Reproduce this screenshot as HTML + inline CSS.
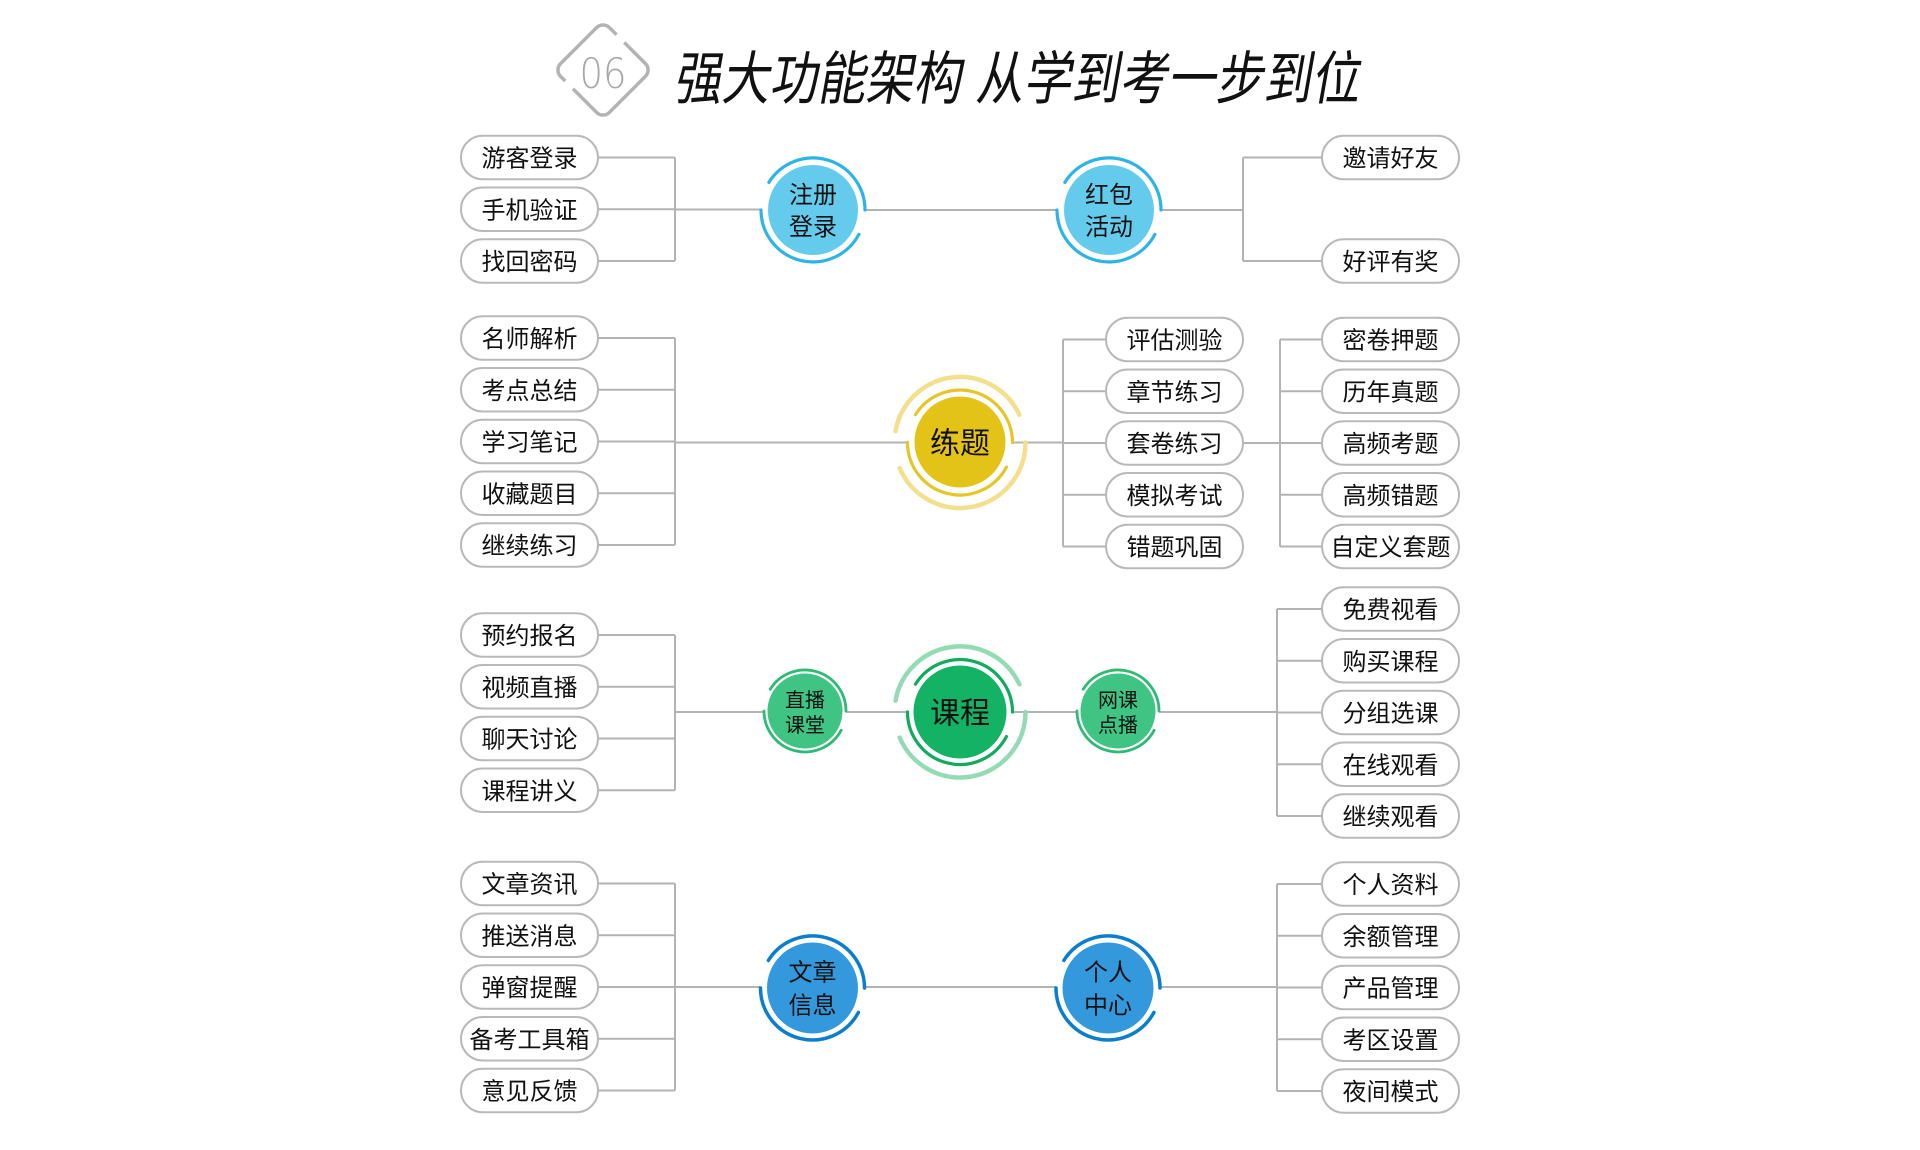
<!DOCTYPE html>
<html>
<head>
<meta charset="utf-8">
<style>
html,body{margin:0;padding:0;background:#fff;}
svg{display:block;}
.p{fill:#fff;stroke:#b9b9b9;stroke-width:2;}
.t{font-family:"Liberation Sans","Noto Sans CJK SC",sans-serif;font-size:24px;fill:#111;text-anchor:middle;}
.c{font-family:"Liberation Sans","Noto Sans CJK SC",sans-serif;fill:#111;text-anchor:middle;}
.r{fill:none;stroke-linecap:round;}
</style>
</head>
<body>
<svg width="1920" height="1150" viewBox="0 0 1920 1150" xmlns="http://www.w3.org/2000/svg">
<rect width="1920" height="1150" fill="#fff"/>

<!-- Title badge -->
<rect x="-34.5" y="-34.5" width="69" height="69" rx="9" transform="translate(603,70) rotate(45)" fill="none" stroke="#b3b3b3" stroke-width="3.5"/>
<rect x="-5.5" y="-6" width="11" height="12" transform="translate(619,40) rotate(45)" fill="#fff"/>
<rect x="-5.5" y="-6" width="11" height="12" transform="translate(570,84) rotate(45)" fill="#fff"/>
<text x="603" y="88" font-family="DejaVu Sans, Liberation Sans, sans-serif" font-weight="200" font-size="42" fill="#a8a8a8" text-anchor="middle" textLength="47" lengthAdjust="spacingAndGlyphs">06</text>

<!-- Title -->
<g transform="translate(0,99) skewX(-10)">
<text x="673" y="0" font-family="Liberation Sans, Noto Sans CJK SC, sans-serif" font-size="58" fill="#111" textLength="288" lengthAdjust="spacingAndGlyphs">强大功能架构</text>
<text x="975" y="0" font-family="Liberation Sans, Noto Sans CJK SC, sans-serif" font-size="58" fill="#111" textLength="384" lengthAdjust="spacingAndGlyphs">从学到考一步到位</text>
</g>

<!-- Connectors -->
<path fill="none" stroke="#b3b3b3" stroke-width="2" d="
M598 157.5H675M598 209.25H675M598 261H675M675 157.5V261M675 209.5H761
M865 210H1057
M1161 210H1243M1243 157.5V261M1243 157.5H1322M1243 261H1322
M598 338H675M598 389.75H675M598 441.5H675M598 493.25H675M598 545H675M675 338V545M675 442.5H907.5
M1012.5 442.5H1063M1063 339.5V546.5M1063 339.5H1106M1063 391.25H1106M1063 443H1106M1063 494.75H1106M1063 546.5H1106
M1243 443H1280M1280 339.5V546.5M1280 339.5H1322M1280 391.25H1322M1280 443H1322M1280 494.75H1322M1280 546.5H1322
M598 635H675M598 686.75H675M598 738.5H675M598 790.25H675M675 635V790.25M675 712H764
M846 712H907.5M1012.5 712H1077M1159 712H1277
M1277 609V816M1277 609H1322M1277 660.75H1322M1277 712.5H1322M1277 764.25H1322M1277 816H1322
M598 883.5H675M598 935.25H675M598 987H675M598 1038.75H675M598 1090.5H675M675 883.5V1090.5M675 987H760.5
M864.5 987H1056
M1160 987H1277M1277 884V1091M1277 884H1322M1277 935.75H1322M1277 987.5H1322M1277 1039.25H1322M1277 1091H1322
"/>

<!-- Pills left -->
<g>
<rect class="p" x="461" y="135.75" width="137" height="43.5" rx="21.75"/><text class="t" x="529.5" y="166.5">游客登录</text>
<rect class="p" x="461" y="187.5" width="137" height="43.5" rx="21.75"/><text class="t" x="529.5" y="218.25">手机验证</text>
<rect class="p" x="461" y="239.25" width="137" height="43.5" rx="21.75"/><text class="t" x="529.5" y="270">找回密码</text>

<rect class="p" x="461" y="316.25" width="137" height="43.5" rx="21.75"/><text class="t" x="529.5" y="347">名师解析</text>
<rect class="p" x="461" y="368" width="137" height="43.5" rx="21.75"/><text class="t" x="529.5" y="398.75">考点总结</text>
<rect class="p" x="461" y="419.75" width="137" height="43.5" rx="21.75"/><text class="t" x="529.5" y="450.5">学习笔记</text>
<rect class="p" x="461" y="471.5" width="137" height="43.5" rx="21.75"/><text class="t" x="529.5" y="502.25">收藏题目</text>
<rect class="p" x="461" y="523.25" width="137" height="43.5" rx="21.75"/><text class="t" x="529.5" y="554">继续练习</text>

<rect class="p" x="461" y="613.25" width="137" height="43.5" rx="21.75"/><text class="t" x="529.5" y="644">预约报名</text>
<rect class="p" x="461" y="665" width="137" height="43.5" rx="21.75"/><text class="t" x="529.5" y="695.75">视频直播</text>
<rect class="p" x="461" y="716.75" width="137" height="43.5" rx="21.75"/><text class="t" x="529.5" y="747.5">聊天讨论</text>
<rect class="p" x="461" y="768.5" width="137" height="43.5" rx="21.75"/><text class="t" x="529.5" y="799.25">课程讲义</text>

<rect class="p" x="461" y="861.75" width="137" height="43.5" rx="21.75"/><text class="t" x="529.5" y="892.5">文章资讯</text>
<rect class="p" x="461" y="913.5" width="137" height="43.5" rx="21.75"/><text class="t" x="529.5" y="944.25">推送消息</text>
<rect class="p" x="461" y="965.25" width="137" height="43.5" rx="21.75"/><text class="t" x="529.5" y="996">弹窗提醒</text>
<rect class="p" x="461" y="1017" width="137" height="43.5" rx="21.75"/><text class="t" x="529.5" y="1047.75">备考工具箱</text>
<rect class="p" x="461" y="1068.75" width="137" height="43.5" rx="21.75"/><text class="t" x="529.5" y="1099.5">意见反馈</text>
</g>

<!-- Pills middle -->
<g>
<rect class="p" x="1106" y="317.75" width="137" height="43.5" rx="21.75"/><text class="t" x="1174.5" y="348.5">评估测验</text>
<rect class="p" x="1106" y="369.5" width="137" height="43.5" rx="21.75"/><text class="t" x="1174.5" y="400.25">章节练习</text>
<rect class="p" x="1106" y="421.25" width="137" height="43.5" rx="21.75"/><text class="t" x="1174.5" y="452">套卷练习</text>
<rect class="p" x="1106" y="473" width="137" height="43.5" rx="21.75"/><text class="t" x="1174.5" y="503.75">模拟考试</text>
<rect class="p" x="1106" y="524.75" width="137" height="43.5" rx="21.75"/><text class="t" x="1174.5" y="555.5">错题巩固</text>
</g>

<!-- Pills right -->
<g>
<rect class="p" x="1322" y="135.75" width="137" height="43.5" rx="21.75"/><text class="t" x="1390.5" y="166.5">邀请好友</text>
<rect class="p" x="1322" y="239.25" width="137" height="43.5" rx="21.75"/><text class="t" x="1390.5" y="270">好评有奖</text>

<rect class="p" x="1322" y="317.75" width="137" height="43.5" rx="21.75"/><text class="t" x="1390.5" y="348.5">密卷押题</text>
<rect class="p" x="1322" y="369.5" width="137" height="43.5" rx="21.75"/><text class="t" x="1390.5" y="400.25">历年真题</text>
<rect class="p" x="1322" y="421.25" width="137" height="43.5" rx="21.75"/><text class="t" x="1390.5" y="452">高频考题</text>
<rect class="p" x="1322" y="473" width="137" height="43.5" rx="21.75"/><text class="t" x="1390.5" y="503.75">高频错题</text>
<rect class="p" x="1322" y="524.75" width="137" height="43.5" rx="21.75"/><text class="t" x="1390.5" y="555.5">自定义套题</text>

<rect class="p" x="1322" y="587.25" width="137" height="43.5" rx="21.75"/><text class="t" x="1390.5" y="618">免费视看</text>
<rect class="p" x="1322" y="639" width="137" height="43.5" rx="21.75"/><text class="t" x="1390.5" y="669.75">购买课程</text>
<rect class="p" x="1322" y="690.75" width="137" height="43.5" rx="21.75"/><text class="t" x="1390.5" y="721.5">分组选课</text>
<rect class="p" x="1322" y="742.5" width="137" height="43.5" rx="21.75"/><text class="t" x="1390.5" y="773.25">在线观看</text>
<rect class="p" x="1322" y="794.25" width="137" height="43.5" rx="21.75"/><text class="t" x="1390.5" y="825">继续观看</text>

<rect class="p" x="1322" y="862.25" width="137" height="43.5" rx="21.75"/><text class="t" x="1390.5" y="893">个人资料</text>
<rect class="p" x="1322" y="914" width="137" height="43.5" rx="21.75"/><text class="t" x="1390.5" y="944.75">余额管理</text>
<rect class="p" x="1322" y="965.75" width="137" height="43.5" rx="21.75"/><text class="t" x="1390.5" y="996.5">产品管理</text>
<rect class="p" x="1322" y="1017.5" width="137" height="43.5" rx="21.75"/><text class="t" x="1390.5" y="1048.25">考区设置</text>
<rect class="p" x="1322" y="1069.25" width="137" height="43.5" rx="21.75"/><text class="t" x="1390.5" y="1100">夜间模式</text>
</g>

<!-- 注册登录 -->
<circle cx="813" cy="210" r="45" fill="#65cbed"/>
<path class="r" stroke="#2cb4e6" stroke-width="3.2" d="M768.9 182.4A52 52 0 0 1 865 210M858.9 234.4A52 52 0 0 1 761 210"/>
<text class="c" x="813" y="203" font-size="24">注册</text>
<text class="c" x="813" y="235" font-size="24">登录</text>

<!-- 红包活动 -->
<circle cx="1109" cy="210" r="45" fill="#65cbed"/>
<path class="r" stroke="#2cb4e6" stroke-width="3.2" d="M1064.9 182.4A52 52 0 0 1 1161 210M1154.9 234.4A52 52 0 0 1 1057 210"/>
<text class="c" x="1109" y="203" font-size="24">红包</text>
<text class="c" x="1109" y="235" font-size="24">活动</text>

<!-- 练题 -->
<path class="r" stroke="#f3df8c" stroke-width="4.5" d="M895.5 431.1A65.5 65.5 0 0 1 1019.4 414.8M1025.5 442.5A65.5 65.5 0 0 1 899.7 468.1"/>
<circle cx="960" cy="442" r="45.5" fill="#e3c318"/>
<path class="r" stroke="#e6c526" stroke-width="3.2" d="M915.5 414.7A52.5 52.5 0 0 1 1012.5 442.5M1006.4 467.1A52.5 52.5 0 0 1 907.5 442.5"/>
<text class="c" x="960" y="453.5" font-size="30">练题</text>

<!-- 直播课堂 -->
<circle cx="805" cy="711" r="37.5" fill="#40c483"/>
<path class="r" stroke="#2dbb73" stroke-width="2.8" d="M770.2 689.3A41 41 0 0 1 846 711M841.2 730.2A41 41 0 0 1 764 711"/>
<text class="c" x="805" y="707" font-size="20">直播</text>
<text class="c" x="805" y="732" font-size="20">课堂</text>

<!-- 课程 -->
<path class="r" stroke="#92dbb5" stroke-width="4.5" d="M895.5 700.6A65.5 65.5 0 0 1 1019.4 684.3M1025.5 712A65.5 65.5 0 0 1 899.7 737.6"/>
<circle cx="960" cy="712" r="46.5" fill="#14b264"/>
<path class="r" stroke="#10ab5d" stroke-width="3.2" d="M915.5 684.2A52.5 52.5 0 0 1 1012.5 712M1006.4 736.6A52.5 52.5 0 0 1 907.5 712"/>
<text class="c" x="960" y="723.5" font-size="30">课程</text>

<!-- 网课点播 -->
<circle cx="1118" cy="711" r="37.5" fill="#40c483"/>
<path class="r" stroke="#2dbb73" stroke-width="2.8" d="M1083.2 689.3A41 41 0 0 1 1159 711M1154.2 730.2A41 41 0 0 1 1077 711"/>
<text class="c" x="1118" y="707" font-size="20">网课</text>
<text class="c" x="1118" y="732" font-size="20">点播</text>

<!-- 文章信息 -->
<circle cx="812.5" cy="988" r="45.5" fill="#3399dc"/>
<path class="r" stroke="#0a7ecd" stroke-width="3.5" d="M768.4 960.4A52 52 0 0 1 864.5 988M858.4 1012.4A52 52 0 0 1 760.5 988"/>
<text class="c" x="812.5" y="980.5" font-size="24">文章</text>
<text class="c" x="812.5" y="1013.5" font-size="24">信息</text>

<!-- 个人中心 -->
<circle cx="1108" cy="988" r="45.5" fill="#3399dc"/>
<path class="r" stroke="#0a7ecd" stroke-width="3.5" d="M1063.9 960.4A52 52 0 0 1 1160 988M1153.9 1012.4A52 52 0 0 1 1056 988"/>
<text class="c" x="1108" y="980.5" font-size="24">个人</text>
<text class="c" x="1108" y="1013.5" font-size="24">中心</text>

</svg>
</body>
</html>
